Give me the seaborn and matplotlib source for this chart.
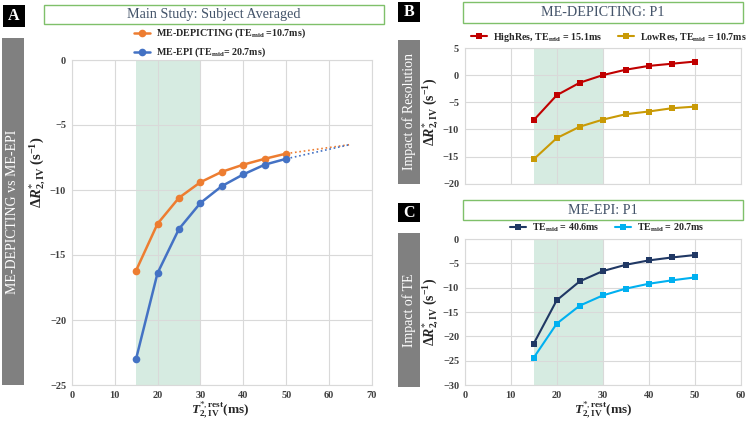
import matplotlib
matplotlib.use("Agg")
import matplotlib.pyplot as plt
import seaborn as sns
from matplotlib.patches import Rectangle

# ---- data ----
t2_main = [15, 20, 25, 30, 35, 40, 45, 50]
depicting_avg = [-16.2, -12.6, -10.6, -9.4, -8.6, -8.05, -7.6, -7.2]
epi_avg = [-23.0, -16.4, -13.0, -11.0, -9.7, -8.8, -8.05, -7.6]
t2_extrap = [50, 65]
depicting_extrap = [-7.2, -6.5]
epi_extrap = [-7.6, -6.5]

t2_p1 = [15, 20, 25, 30, 35, 40, 45, 50]
highres = [-8.3, -3.7, -1.4, 0.0, 1.0, 1.7, 2.1, 2.5]
lowres = [-15.5, -11.6, -9.5, -8.2, -7.2, -6.7, -6.1, -5.8]
te_long = [-21.5, -12.6, -8.7, -6.6, -5.3, -4.4, -3.8, -3.3]
te_short = [-24.4, -17.4, -13.7, -11.6, -10.2, -9.2, -8.5, -7.9]

W, H = 751, 423

sns.set_theme(style="whitegrid")
plt.rcParams['font.family'] = ['Liberation Serif', 'DejaVu Serif']
plt.rcParams['mathtext.fontset'] = 'custom'
plt.rcParams['mathtext.rm'] = 'Liberation Serif'
plt.rcParams['mathtext.it'] = 'Liberation Serif:italic'
plt.rcParams['mathtext.bf'] = 'Liberation Serif:bold'
plt.rcParams['mathtext.bfit'] = 'Liberation Serif:bold:italic'

GRID = '#d9d9d9'
SHADE = '#d6ebe1'
TXT = '#44546a'

fig = plt.figure(figsize=(W / 100, H / 100), dpi=100)


def px_axes(x0, y0, x1, y1):
    return fig.add_axes([x0 / W, 1 - y1 / H, (x1 - x0) / W, (y1 - y0) / H])


def px_rect(x0, y0, x1, y1, **kw):
    fig.patches.append(Rectangle((x0 / W, 1 - y1 / H), (x1 - x0) / W, (y1 - y0) / H,
                                 transform=fig.transFigure, figure=fig, **kw))


def title_box(x0, y0, x1, y1, text):
    px_rect(x0, y0, x1, y1, facecolor='white', edgecolor='#7fc06a', lw=1.0)
    fig.text((x0 + x1) / 2 / W, 1 - (y0 + y1) / 2 / H, text, ha='center', va='center',
             fontsize=10.2, color=TXT)


def letter(x0, y0, x1, y1, s):
    px_rect(x0, y0, x1, y1, facecolor='black', edgecolor='none')
    fig.text((x0 + x1) / 2 / W, 1 - (y0 + y1) / 2 / H, s, ha='center', va='center',
             fontsize=11.5, color='white', fontweight='bold')


def side_bar(x0, y0, x1, y1, s):
    px_rect(x0, y0, x1, y1, facecolor='#808080', edgecolor='none')
    fig.text((x0 + x1) / 2 / W, 1 - (y0 + y1) / 2 / H, s, ha='center', va='center',
             fontsize=10, color='white', rotation=90)


def style_axes(ax, xlim, ylim, xstep, ystep, show_x=True):
    ax.set_xlim(*xlim)
    ax.set_ylim(*ylim)
    ax.set_xticks(range(xlim[0], xlim[1] + 1, xstep))
    ax.set_yticks(range(ylim[0], ylim[1] + 1, ystep))
    ax.axvspan(15, 30, color=SHADE, zorder=0, lw=0)
    ax.grid(True, color=GRID, lw=0.8)
    for sp in ax.spines.values():
        sp.set_color(GRID)
        sp.set_linewidth(0.8)
    ax.tick_params(length=0, labelsize=7.5, colors='#404040', pad=4)
    for lab in ax.get_xticklabels() + ax.get_yticklabels():
        lab.set_fontweight('bold')
    if not show_x:
        ax.set_xticklabels([])
    ax.set_xlabel('')
    ax.set_ylabel('')


ylab = r'$\mathbf{\Delta}\mathbfit{R}^{*}_{\mathbf{2,IV}}\ \mathbf{(s^{-1})}$'
xlab = r'$\mathbfit{T}^{*,\mathbf{rest}}_{\mathbf{2,IV}}{\mathbf{(ms)}}$'
leg_kw = dict(frameon=False, prop={'size': 7.2, 'weight': 'bold'}, handlelength=1.6,
              handletextpad=0.6, borderaxespad=0, borderpad=0.1)

# ---- panel A ----
axA = px_axes(71.7, 60, 372, 385)
sns.lineplot(x=t2_main, y=depicting_avg, ax=axA, color='#ed7d31', marker='o', markersize=5.5,
             markeredgewidth=0, lw=1.8, label=r'ME-DEPICTING (TE$_{\mathbf{mid}}$ =10.7ms)')
sns.lineplot(x=t2_main, y=epi_avg, ax=axA, color='#4472c4', marker='o', markersize=5.5,
             markeredgewidth=0, lw=1.8, label=r'ME-EPI (TE$_{\mathbf{mid}}$= 20.7ms)')
sns.lineplot(x=t2_extrap, y=depicting_extrap, ax=axA, color='#ed7d31', lw=1.2, ls=':', legend=False)
sns.lineplot(x=t2_extrap, y=epi_extrap, ax=axA, color='#4472c4', lw=1.2, ls=':', legend=False)
style_axes(axA, (0, 70), (-25, 0), 10, 5)
axA.legend(loc='center', bbox_to_anchor=(0.494, 1.052), ncol=1, labelspacing=0.55, **leg_kw)
fig.text(38 / W, 1 - 172 / H, ylab, rotation=90, ha='center', va='center', fontsize=10.5)
fig.text(220 / W, 1 - 410 / H, xlab, ha='center', va='center', fontsize=9.5)

# ---- panel B ----
axB = px_axes(464.7, 48, 740.7, 183.7)
sns.lineplot(x=t2_p1, y=highres, ax=axB, color='#c00000', marker='s', markersize=5,
             markeredgewidth=0, lw=1.5, label=r'HighRes, TE$_{\mathbf{mid}}$ = 15.1ms')
sns.lineplot(x=t2_p1, y=lowres, ax=axB, color='#c99a06', marker='s', markersize=5,
             markeredgewidth=0, lw=1.5, label=r'LowRes, TE$_{\mathbf{mid}}$ = 10.7ms')
style_axes(axB, (0, 60), (-20, 5), 10, 5, show_x=False)
axB.legend(loc='center', bbox_to_anchor=(0.523, 1.081), ncol=2, columnspacing=1.6, **leg_kw)
fig.text(431 / W, 1 - 112 / H, ylab, rotation=90, ha='center', va='center', fontsize=10)

# ---- panel C ----
axC = px_axes(464.7, 239, 740.7, 385)
sns.lineplot(x=t2_p1, y=te_long, ax=axC, color='#203864', marker='s', markersize=5,
             markeredgewidth=0, lw=1.5, label=r'TE$_{\mathbf{mid}}$ = 40.6ms')
sns.lineplot(x=t2_p1, y=te_short, ax=axC, color='#00b0f0', marker='s', markersize=5,
             markeredgewidth=0, lw=1.5, label=r'TE$_{\mathbf{mid}}$ = 20.7ms')
style_axes(axC, (0, 60), (-30, 0), 10, 5)
axC.legend(loc='center', bbox_to_anchor=(0.517, 1.075), ncol=2, columnspacing=1.6, **leg_kw)
fig.text(431 / W, 1 - 312 / H, ylab, rotation=90, ha='center', va='center', fontsize=10)
fig.text(603 / W, 1 - 410 / H, xlab, ha='center', va='center', fontsize=9.5)

# ---- decorations ----
title_box(44, 5, 384, 24, 'Main Study: Subject Averaged')
title_box(462.7, 2, 743.3, 23, 'ME-DEPICTING: P1')
title_box(462.7, 200, 743.3, 220, 'ME-EPI: P1')
letter(3, 5, 25, 27, 'A')
letter(398, 2, 420, 22, 'B')
letter(398, 203, 420, 222, 'C')
side_bar(2, 38, 24, 385, 'ME-DEPICTING vs ME-EPI')
side_bar(398, 40, 420, 184, 'Impact of Resolution')
side_bar(398, 233, 420, 387, 'Impact of TE')

fig.savefig('out.png', dpi=100)
